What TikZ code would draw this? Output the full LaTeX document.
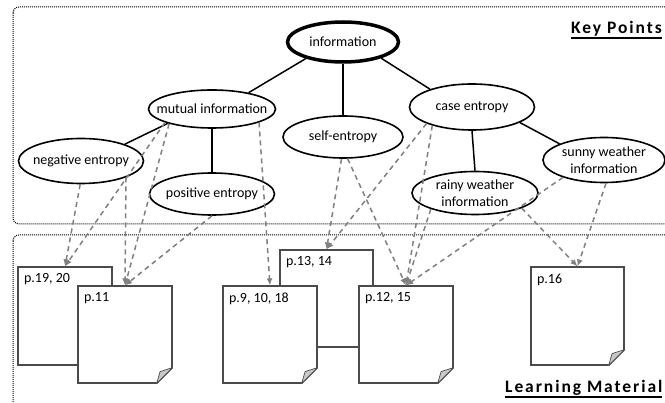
\documentclass[tikz,border=0pt]{standalone}
\usepackage{fontspec}
\setmainfont{Carlito}
\usetikzlibrary{arrows.meta,calc,shapes.geometric}
\definecolor{arrgray}{RGB}{128,128,128}
\definecolor{pageedge}{RGB}{75,75,75}
\definecolor{foldgray}{RGB}{200,200,200}
\newcommand\ulthick[1]{\setbox0\hbox{#1}\rlap{\rule[-5.5pt]{\wd0}{1.9pt}}\box0}
\newcommand\mkfold[1]{%
  \fill[white] ($(#1.south east)+(1.2,1.2)$) -- ($(#1.south east)+(1.2,-17)$) -- ($(#1.south east)+(-17,1.2)$) -- cycle;
  \draw[pageedge, line width=1.2pt] ($(#1.south east)+(0,-16)$) -- ($(#1.south east)+(-16,0)$);
  \filldraw[fill=foldgray, draw=pageedge, line width=0.7pt, line join=round] ($(#1.south east)+(0,-16)$) -- ($(#1.south east)+(-12.5,-12)$) -- ($(#1.south east)+(-16,0)$) -- cycle;}
\begin{document}
\begin{tikzpicture}[x=1pt,y=-1pt,
  concept/.style={ellipse, draw=black, line width=1.6pt, fill=white, inner xsep=-20pt, inner ysep=-10pt,
    minimum width=125pt, minimum height=44pt, font=\fontsize{14}{17}\selectfont, align=center},
  treeedge/.style={draw=black, line width=1.5pt},
  link/.style={draw=arrgray, line width=1.5pt, dash pattern=on 5pt off 4pt, -{Latex[length=7pt,width=6pt]}},
  pagebox/.style={rectangle, draw=pageedge, line width=1.2pt, fill=white, minimum width=94pt, minimum height=97pt, inner sep=0pt},
  pagelabel/.style={anchor=north west, inner sep=0pt, xshift=6.5pt, yshift=-7pt, font=\fontsize{14}{17}\selectfont},
  boxline/.style={draw=black, line width=1pt, dash pattern=on 1pt off 1pt, rounded corners=6pt},
  titletext/.style={anchor=base west, inner sep=0pt, font=\fontsize{17.5}{20}\selectfont\bfseries\addfontfeatures{LetterSpace=11}}
]
\useasboundingbox (0,0) rectangle (665,403);

% frames
\draw[boxline] (13,7) rectangle (680,224);
\draw[boxline] (13,235) rectangle (680,415);
\node[titletext] (kp) at (571,33.3) {\ulthick{Key Points}};
\node[titletext] (lm) at (505,392.3) {\ulthick{Learning Material}};

% pages
\node[pagebox, minimum height=98pt, label={[pagelabel]north west:p.19, 20}] (p1920) at (65,316) {};
\node[pagebox, label={[pagelabel]north west:p.11}] (p11) at (125,334.5) {};
\mkfold{p11}
\node[pagebox, minimum width=93pt, label={[pagelabel]north west:p.13, 14}] (p1314) at (326.5,298.5) {};
\node[pagebox, label={[pagelabel]north west:p.9, 10, 18}] (p9) at (270,334.5) {};
\mkfold{p9}
\node[pagebox, label={[pagelabel]north west:p.12, 15}] (p1215) at (406,334.5) {};
\mkfold{p1215}
\node[pagebox, minimum width=93pt, minimum height=98pt, label={[pagelabel]north west:p.16}] (p16) at (577.5,316) {};
\mkfold{p16}

% concepts
\node[concept, line width=3.5pt, minimum width=111pt, minimum height=40pt] (info) at (343,42) {information};
\node[concept, minimum width=127pt, minimum height=38pt] (mi) at (212,109) {mutual information};
\node[concept, minimum width=120pt, minimum height=42pt] (se) at (343,137) {self-entropy};
\node[concept, minimum width=125pt, minimum height=46pt] (ce) at (472,107) {case entropy};
\node[concept, minimum width=125pt, minimum height=45pt] (neg) at (81,161) {negative entropy};
\node[concept, minimum width=125pt, minimum height=42pt] (pos) at (212,194) {positive entropy};
\node[concept, minimum width=126pt, minimum height=43pt] (rw) at (475,193) {rainy weather\\information};
\node[concept, minimum width=122pt, minimum height=45pt] (sw) at (604,160) {sunny weather\\information};

% tree
\draw[treeedge] (info.204) -- (mi.24);
\draw[treeedge] (info.south) -- (se.north);
\draw[treeedge] (info.337) -- (ce.157);
\draw[treeedge] (mi.198) -- (neg.21);
\draw[treeedge] (mi.south) -- (pos.north);
\draw[treeedge] (ce.south) -- (rw.north);
\draw[treeedge] (ce.342) -- (sw.160);

% links to learning material
\draw[link] (neg.268) -- (p1920.north);
\draw[link] (mi.196) -- (p1920.north);
\draw[link] (neg.340) -- (p11.north);
\draw[link] (mi.199) -- (p11.north);
\draw[link] (pos.south) -- (p11.north);
\draw[link] (mi.344) -- (p9.north);
\draw[link] (se.266) -- (p1314.north);
\draw[link] (se.282) -- (p1215.north);
\draw[link] (ce.200) -- (p1314.north);
\draw[link] (ce.205) -- (p1215.north);
\draw[link] (rw.200) -- (p1215.north);
\draw[link] (sw.203) -- (p1215.north);
\draw[link] (rw.342) -- (p16.north);
\draw[link] (sw.275) -- (p16.north);
\end{tikzpicture}
\end{document}
